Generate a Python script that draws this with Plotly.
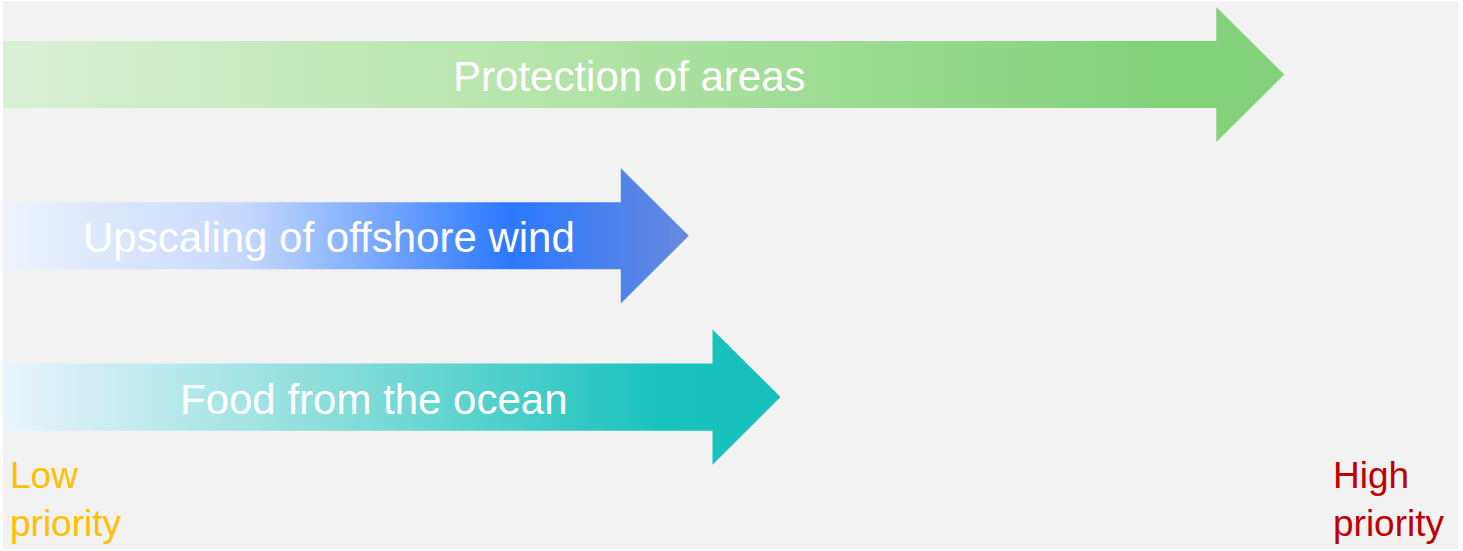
import plotly.graph_objects as go

# priorities, 0 = low, 100 = high
topics = ["Protection of areas", "Upscaling of offshore wind", "Food from the ocean"]
priority = [88.0, 47.1, 53.4]
rows = [2, 1, 0]
label_x = [43.0, 22.4, 25.5]

grad_scales = [
    [[0, "#d8f1d4"], [0.45, "#b3e3a8"], [0.9, "#82d27a"], [1, "#82d27a"]],
    [[0, "#eef3fd"], [0.35, "#c6d9fc"], [0.74, "#2b78ff"], [1, "#6689de"]],
    [[0, "#eaf5fc"], [0.4, "#8fdfdd"], [0.85, "#19c2bc"], [1, "#17c0bb"]],
]

head_len = 4.67
body_h = 0.208
head_h = 0.419

fig = go.Figure()

for name, p, r, scale in zip(topics, priority, rows, grad_scales):
    neck = p - head_len
    xs = [0, neck, neck, p, neck, neck, 0, 0]
    ys = [r + body_h, r + body_h, r + head_h, r, r - head_h, r - body_h, r - body_h, r + body_h]
    fig.add_trace(go.Scatter(
        x=xs, y=ys, mode="lines", fill="toself",
        line=dict(width=0, color="rgba(0,0,0,0)"),
        fillcolor=scale[-1][1],
        fillgradient=dict(type="horizontal", colorscale=scale),
        hoverinfo="skip", name=name,
    ))

for name, lx, r in zip(topics, label_x, rows):
    fig.add_annotation(x=lx, y=r, text=name, showarrow=False,
                       font=dict(size=42, color="white"),
                       xanchor="center", yanchor="middle", yshift=-2)

fig.add_annotation(x=0, y=-0.33, text="Low<br>priority", showarrow=False,
                   xanchor="left", yanchor="top", align="left", xshift=5, yshift=-3,
                   font=dict(size=37, color="#ffc000"))
fig.add_annotation(x=100, y=-0.33, text="High<br>priority", showarrow=False,
                   xanchor="right", yanchor="top", align="left", xshift=-12, yshift=-3,
                   font=dict(size=37, color="#c00000"))

fig.update_xaxes(range=[0, 100], visible=False)
fig.update_yaxes(range=[-0.942, 2.456], visible=False)

fig.update_layout(
    width=1463, height=551,
    margin=dict(l=3, r=4, t=1, b=2),
    plot_bgcolor="#f2f2f2", paper_bgcolor="white",
    showlegend=False,
    font_family="Liberation Sans, Arial",
)

# page has a default 8px body margin, drop it so the figure sits at 0,0
fig.write_html("out.html", config={"displayModeBar": False},
               post_script="document.body.style.margin='0';")
